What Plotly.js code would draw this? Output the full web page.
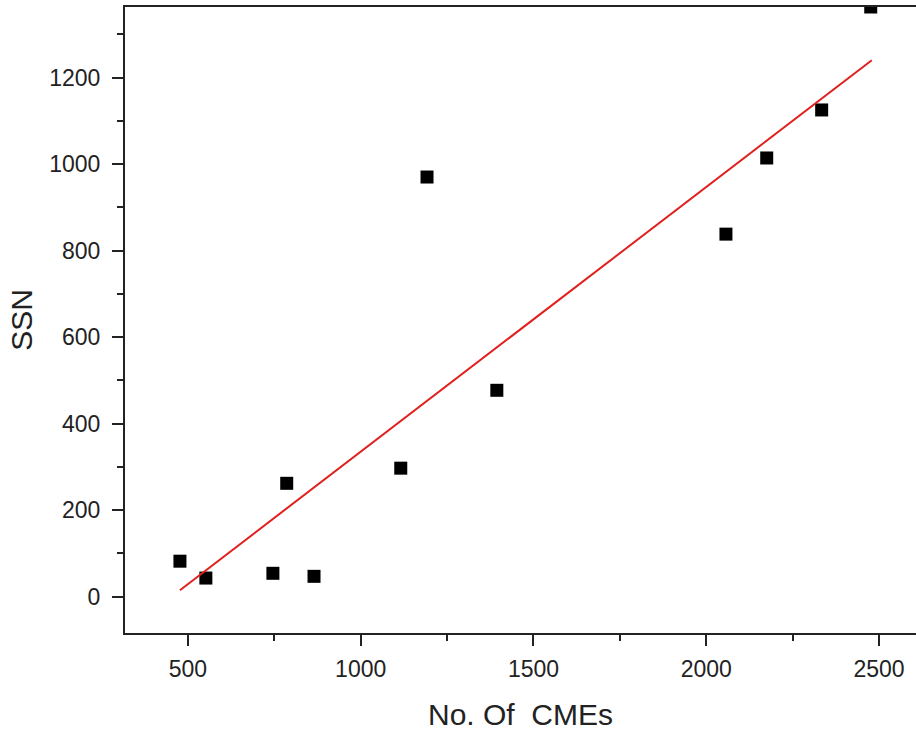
<!DOCTYPE html>
<html>
<head>
<meta charset="utf-8">
<script src="https://cdn.plot.ly/plotly-3.0.1.min.js"></script>
<style>html,body{margin:0;padding:0;background:#fff;}#chart{width:916px;height:731px;}</style>
</head>
<body>
<div id="chart"></div>
<script>
// Data
const cmes = [477, 552, 746, 865, 786, 1116, 1192, 1394, 2057, 2175, 2334, 2476];
const ssn  = [82, 43, 54, 47, 262, 297, 970, 477, 838, 1014, 1125, 1363];
// Linear fit line end points (as drawn in the reference)
const fitX = [477, 2479];
const fitY = [15, 1240];

const xTickVals = [500, 1000, 1500, 2000, 2500];
const yTickVals = [0, 200, 400, 600, 800, 1000, 1200];

const font = 'Liberation Sans, Arial, sans-serif';

const traces = [
  {x: cmes, y: ssn, type: 'scatter', mode: 'markers',
   marker: {symbol: 'square', size: 13, color: '#000'}, cliponaxis: true, showlegend: false},
  {x: fitX, y: fitY, type: 'scatter', mode: 'lines',
   line: {color: '#e0201e', width: 2}, showlegend: false}
];

const layout = {
  width: 916, height: 731,
  margin: {l: 125, r: 0, t: 7, b: 98},
  paper_bgcolor: '#fff', plot_bgcolor: '#fff',
  font: {family: font, color: '#222'},
  xaxis: {
    range: [318, 2607], tickvals: xTickVals, ticktext: xTickVals.map(String),
    showgrid: false, zeroline: false,
    showline: true, linecolor: '#222', linewidth: 2, mirror: true,
    ticks: 'outside', ticklen: 11, tickwidth: 2, tickcolor: '#222',
    ticklabelstandoff: 3,
    tickfont: {size: 23, family: font, color: '#222'},
    minor: {dtick: 250, tick0: 0, ticks: 'outside', ticklen: 6, tickwidth: 2, tickcolor: '#222', showgrid: false},
    title: {text: 'No. Of  CMEs', font: {size: 30, family: font, color: '#222'}, standoff: 24}
  },
  yaxis: {
    range: [-84, 1363], tickvals: yTickVals, ticktext: yTickVals.map(String),
    showgrid: false, zeroline: false,
    showline: true, linecolor: '#222', linewidth: 2, mirror: false,
    ticks: 'outside', ticklen: 11, tickwidth: 2, tickcolor: '#222',
    ticklabelstandoff: 7,
    tickfont: {size: 23, family: font, color: '#222'},
    minor: {dtick: 100, tick0: 0, ticks: 'outside', ticklen: 6, tickwidth: 2, tickcolor: '#222', showgrid: false},
    title: {text: 'SSN', font: {size: 30, family: font, color: '#222'}, standoff: 8}
  }
};

Plotly.newPlot('chart', traces, layout, {displayModeBar: false, staticPlot: true});
</script>
</body>
</html>
